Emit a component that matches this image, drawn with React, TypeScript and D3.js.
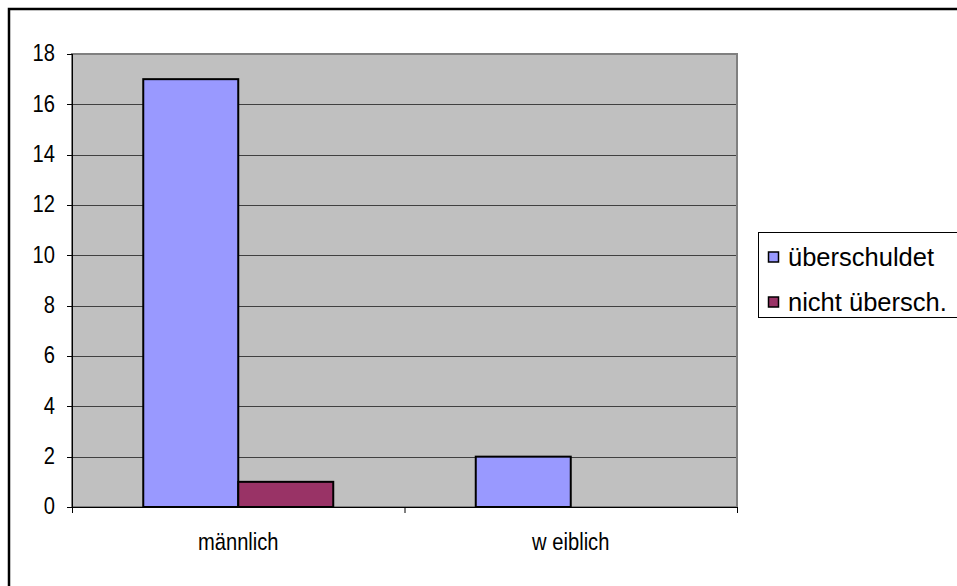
import React from "react";
import * as d3 from "d3";

const categories = ["männlich", "w eiblich"];
const seriesNames = ["überschuldet", "nicht übersch."];
const ueberschuldet = [17, 2];
const nichtUebersch = [1, 0];
const yTicks = [0, 2, 4, 6, 8, 10, 12, 14, 16, 18];

const W = 957;
const H = 586;
const plot = { left: 72, right: 737, top: 54, bottom: 507 };
const colors = ["#9999FF", "#993366"];
const font = "Arial, 'Liberation Sans', sans-serif";
// axis labels are drawn slightly condensed horizontally
const squeeze = 0.84;

export default function App() {
  const x = d3
    .scaleBand<string>()
    .domain(categories)
    .range([plot.left, plot.right]);
  const inner = d3
    .scaleBand<string>()
    .domain(seriesNames)
    .range([0, x.bandwidth()])
    .paddingOuter(0.75)
    .paddingInner(0);
  const y = d3.scaleLinear().domain([0, 18]).range([plot.bottom, plot.top]);

  const series = [ueberschuldet, nichtUebersch];

  return (
    <svg
      width={W}
      height={H}
      style={{ position: "absolute", left: 0, top: 0, background: "#fff" }}
    >
      {/* outer frame */}
      <rect x={9} y={9} width={W + 20} height={H + 20} fill="none" stroke="#000" strokeWidth={2.5} />

      {/* plot area */}
      <rect
        x={plot.left}
        y={plot.top}
        width={plot.right - plot.left}
        height={plot.bottom - plot.top}
        fill="#C0C0C0"
        stroke="#808080"
        strokeWidth={2}
      />

      {/* gridlines */}
      {yTicks.slice(1, -1).map((t) => (
        <line
          key={"g" + t}
          x1={plot.left}
          x2={plot.right - 1}
          y1={Math.round(y(t)) + 0.5}
          y2={Math.round(y(t)) + 0.5}
          stroke="#404040"
          strokeWidth={1}
        />
      ))}

      {/* bars */}
      {categories.map((c, ci) =>
        series.map((vals, si) =>
          vals[ci] > 0 ? (
            <rect
              key={c + si}
              x={(x(c) as number) + (inner(seriesNames[si]) as number)}
              y={y(vals[ci])}
              width={inner.bandwidth()}
              height={y(0) - y(vals[ci])}
              fill={colors[si]}
              stroke="#000"
              strokeWidth={2}
            />
          ) : null
        )
      )}

      {/* y axis */}
      <line x1={plot.left + 0.5} x2={plot.left + 0.5} y1={plot.top} y2={plot.bottom + 5} stroke="#000" />
      {yTicks.map((t) => (
        <g key={"t" + t}>
          <line
            x1={plot.left - 5}
            x2={plot.left}
            y1={Math.round(y(t)) + 0.5}
            y2={Math.round(y(t)) + 0.5}
            stroke="#000"
          />
          <text
            transform={`translate(55,${y(t)}) scale(${squeeze},1)`}
            dy="0.31em"
            textAnchor="end"
            fontFamily={font}
            fontSize={24}
            fill="#000"
          >
            {t}
          </text>
        </g>
      ))}

      {/* x axis */}
      <line x1={plot.left} x2={plot.right} y1={plot.bottom + 0.5} y2={plot.bottom + 0.5} stroke="#000" />
      {[...categories.map((c) => x(c) as number), plot.right].map((px, i) => (
        <line key={"xt" + i} x1={px + 0.5} x2={px + 0.5} y1={plot.bottom} y2={plot.bottom + 6} stroke="#000" />
      ))}
      {categories.map((c) => (
        <text
          key={"xl" + c}
          transform={`translate(${(x(c) as number) + x.bandwidth() / 2},550) scale(${squeeze},1)`}
          textAnchor="middle"
          fontFamily={font}
          fontSize={24}
          fill="#000"
        >
          {c}
        </text>
      ))}

      {/* legend */}
      <rect x={758.5} y={232.5} width={220} height={85} fill="#fff" stroke="#000" strokeWidth={1} />
      {seriesNames.map((s, i) => {
        const cy = 257 + i * 45;
        return (
          <g key={"lg" + s}>
            <rect x={768.5} y={cy - 5} width={10} height={10} fill={colors[i]} stroke="#000" strokeWidth={1.5} />
            <text x={788} y={cy} dy="0.36em" fontFamily={font} fontSize={25.5} fill="#000">
              {s}
            </text>
          </g>
        );
      })}
    </svg>
  );
}
